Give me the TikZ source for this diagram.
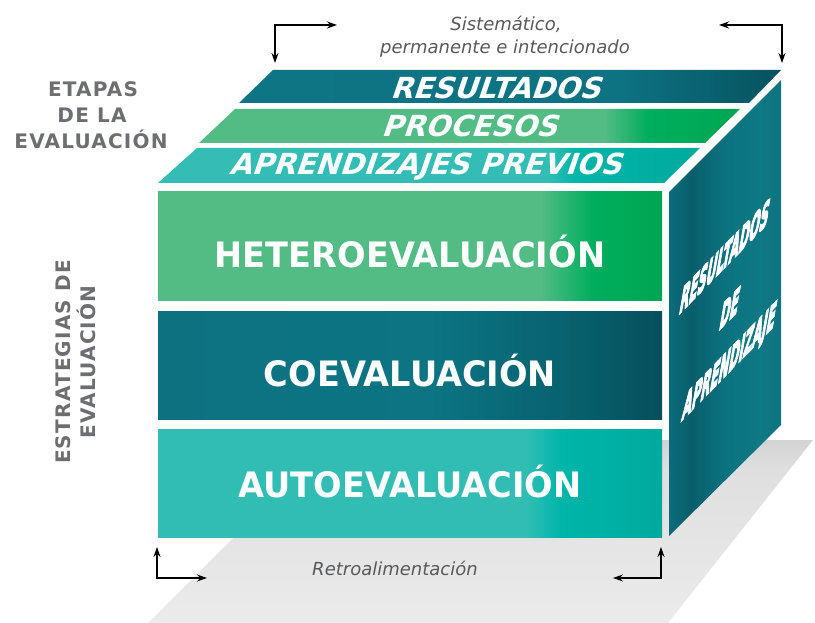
\documentclass[tikz,border=0pt]{standalone}
\usepackage{fontspec}
\setmainfont{DejaVu Sans}
\newfontfamily\boxfont{DejaVu Sans}[FakeStretch=0.96]
\newfontfamily\bandfont{DejaVu Sans}[FakeSlant=0.34]
\newfontfamily\labelfont{DejaVu Sans}[LetterSpace=6]
\newfontfamily\sidefont{DejaVu Sans}[FakeBold=6]
\usetikzlibrary{arrows.meta}

\definecolor{hetA}{HTML}{52BC84}
\definecolor{hetB}{HTML}{00AE5E}
\definecolor{hetC}{HTML}{00A651}
\definecolor{coA}{HTML}{0D7180}
\definecolor{coB}{HTML}{0C7483}
\definecolor{coC}{HTML}{08626F}
\definecolor{coD}{HTML}{06505D}
\definecolor{autA}{HTML}{31BDB4}
\definecolor{autB}{HTML}{00B5A9}
\definecolor{autC}{HTML}{00AA9D}
\definecolor{resA}{HTML}{0E7585}
\definecolor{resB}{HTML}{0D7382}
\definecolor{resC}{HTML}{07525F}
\definecolor{aprA}{HTML}{33BDB4}
\definecolor{sideA}{HTML}{0B6C79}
\definecolor{sideB}{HTML}{085E6B}
\definecolor{sideC}{HTML}{0C7280}
\definecolor{sideD}{HTML}{0E7884}
\definecolor{sideE}{HTML}{0D7480}
\definecolor{shA}{HTML}{EBEBEB}
\definecolor{shB}{HTML}{DFDFDF}
\definecolor{shC}{HTML}{D3D3D3}
\definecolor{labelgray}{HTML}{6D6E71}
\definecolor{notegray}{HTML}{58595B}

\pgfdeclarehorizontalshading{heteroS}{100bp}{color(0bp)=(hetA); color(63bp)=(hetA); color(68bp)=(hetB); color(75bp)=(hetC); color(100bp)=(hetC)}
\pgfdeclarehorizontalshading{coS}{100bp}{color(0bp)=(coA); color(25bp)=(coA); color(52bp)=(coB); color(65bp)=(coC); color(75bp)=(coD); color(100bp)=(coD)}
\pgfdeclarehorizontalshading{autoS}{100bp}{color(0bp)=(autA); color(61.5bp)=(autA); color(65bp)=(autB); color(75bp)=(autC); color(100bp)=(autC)}
\pgfdeclarehorizontalshading{resS}{100bp}{color(0bp)=(resA); color(25bp)=(resA); color(60bp)=(resB); color(75bp)=(resC); color(100bp)=(resC)}
\pgfdeclarehorizontalshading{procS}{100bp}{color(0bp)=(hetA); color(62.5bp)=(hetA); color(66.5bp)=(hetB); color(75bp)=(hetC); color(100bp)=(hetC)}
\pgfdeclarehorizontalshading{aprS}{100bp}{color(0bp)=(aprA); color(61bp)=(aprA); color(63.5bp)=(autB); color(75bp)=(autC); color(100bp)=(autC)}
\pgfdeclarehorizontalshading{sideS}{100bp}{color(0bp)=(sideA); color(25bp)=(sideA); color(35bp)=(sideB); color(50bp)=(sideC); color(65bp)=(sideD); color(75bp)=(sideE); color(100bp)=(sideE)}
\pgfdeclareverticalshading{shadowS}{100bp}{color(0bp)=(shA); color(25bp)=(shA); color(67bp)=(shB); color(75bp)=(shC); color(100bp)=(shC)}

\begin{document}
\begin{tikzpicture}[x=1pt,y=-1pt,
  frontbox/.style={draw=none, inner sep=0pt, minimum width=504pt, minimum height=108pt, shade},
  boxtext/.style={text=white, anchor=base, inner sep=0pt, font=\boxfont\bfseries\fontsize{35}{40}\selectfont},
  bandtext/.style={text=white, anchor=base, inner sep=0pt, font=\bandfont\bfseries\fontsize{29}{34}\selectfont},
  sidetext/.style={text=white, inner sep=0pt, font=\sidefont\bfseries\fontsize{38}{44}\selectfont, transform shape, cm={0.322,0.33,0.17,0.985,(0,0)}},
  labeltext/.style={text=labelgray, anchor=base, inner sep=0pt, font=\labelfont\bfseries\fontsize{20}{24}\selectfont},
  notetext/.style={text=notegray, anchor=base, inner sep=0pt, font=\itshape\fontsize{18}{22}\selectfont},
  arr/.style={draw=black, line width=1.3pt, arrows={Stealth[length=10pt,width=7pt]-Stealth[length=10pt,width=7pt]}}
]
\useasboundingbox (0,0) rectangle (815,623);

% shadow
\shade[shading=shadowS] (148,623) -- (240,531) -- (240,440) -- (813,440) -- (668,623) -- cycle;

% side face
\shade[shading=sideS] (669,192) -- (781,80) -- (781,425) -- (669,536) -- cycle;
\begin{scope}[shift={(725,256)}]
  \node[sidetext] (sideR) at (0,0) {RESULTADOS};
\end{scope}
\begin{scope}[shift={(730,308)}]
  \node[sidetext] (sideD) at (0,0) {DE};
\end{scope}
\begin{scope}[shift={(729,364)}]
  \node[sidetext] (sideA) at (0,0) {APRENDIZAJE};
\end{scope}

% top bands
\shade[shading=resS] (273,70) -- (781,70) -- (749,103) -- (239,103) -- cycle;
\shade[shading=procS] (235,109) -- (740,109) -- (705,143) -- (199,143) -- cycle;
\shade[shading=aprS] (197,148) -- (700,148) -- (664,183) -- (158,183) -- cycle;
\node[bandtext] (res) at (495,99) {RESULTADOS};
\node[bandtext] (proc) at (469,137) {PROCESOS};
\node[bandtext] (apr) at (425,175) {APRENDIZAJES PREVIOS};

% front boxes
\node[frontbox, shading=heteroS] (hetero) at (410,246) {};
\node[frontbox, shading=coS] (coev) at (410,365) {};
\node[frontbox, shading=autoS] (autoev) at (410,483) {};
\node[boxtext] (heteroT) at (410,268) {HETEROEVALUACIÓN};
\node[boxtext] (coevT) at (410,386) {COEVALUACIÓN};
\node[boxtext] (autoevT) at (410,497) {AUTOEVALUACIÓN};

% left labels
\node[labeltext] (et1) at (93,97) {ETAPAS};
\node[labeltext] (et2) at (92,123) {DE LA};
\node[labeltext] (et3) at (91,149) {EVALUACIÓN};
\node[labeltext, rotate=90] (es1) at (70,362) {ESTRATEGIAS DE};
\node[labeltext, rotate=90] (es2) at (95,362) {EVALUACIÓN};

% notes
\node[notetext] (sis1) at (506,31) {Sistemático,};
\node[notetext] (sis2) at (505,54) {permanente e intencionado};
\node[notetext] (retro) at (395,575) {Retroalimentación};

% arrows
\coordinate (tlc) at (275,25);
\coordinate (tlh) at (337,25);
\coordinate (tlv) at (275,63);
\coordinate (trc) at (782,25);
\coordinate (trh) at (719,25);
\coordinate (trv) at (782,63);
\coordinate (blc) at (157,578);
\coordinate (blh) at (207,578);
\coordinate (blv) at (157,547);
\coordinate (brc) at (661,578);
\coordinate (brh) at (613,578);
\coordinate (brv) at (661,547);
\draw[arr] (tlh) -- (tlc) -- (tlv);
\draw[arr] (trh) -- (trc) -- (trv);
\draw[arr] (blh) -- (blc) -- (blv);
\draw[arr] (brh) -- (brc) -- (brv);
\end{tikzpicture}
\end{document}
